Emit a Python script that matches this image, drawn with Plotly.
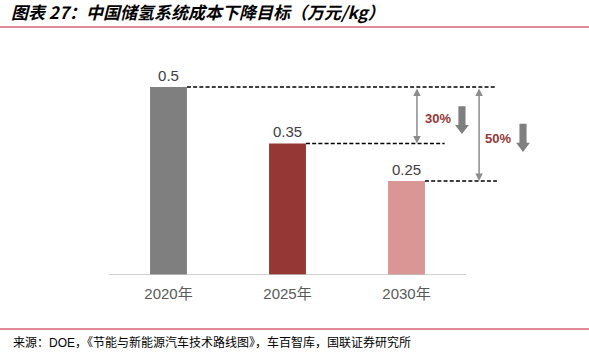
import plotly.graph_objects as go

categories = ["2020年", "2025年", "2030年"]
values = [0.5, 0.35, 0.25]
value_labels = ["0.5", "0.35", "0.25"]
bar_colors = ["#7F7F7F", "#953735", "#D99694"]
pct_labels = ["30%", "50%"]

title = "图表 27：中国储氢系统成本下降目标（万元/kg）"
source = "来源：DOE，《节能与新能源汽车技术路线图》，车百智库，国联证券研究所"

W, H = 589, 358
FONT = "Liberation Sans, Arial, Noto Sans CJK SC"
CJK = "Noto Sans CJK SC"

x_idx = list(range(len(categories)))
bar_w = 0.31
half = bar_w / 2

fig = go.Figure()
fig.add_trace(go.Bar(
    x=x_idx, y=values, width=bar_w, marker=dict(color=bar_colors, line=dict(width=0)),
    text=value_labels, textposition="outside",
    textfont=dict(family=FONT, size=15, color="#404040"),
    cliponaxis=False, hoverinfo="skip"))

shapes = []
# baseline axis line
shapes.append(dict(type="line", xref="x", yref="y", x0=-0.5, x1=2.5, y0=0, y1=0,
                   line=dict(color="#BFBFBF", width=1.3)))
# dashed guides
ends = [2.76, 2.32, 2.76]
for i, v in enumerate(values):
    shapes.append(dict(type="line", xref="x", yref="y", x0=i + half, x1=ends[i], y0=v, y1=v,
                       line=dict(color="#000000", width=1.5, dash="4px,2.2px")))

# block down arrows
def down_arrow(xc, ytop, yneck, ytip, sw=0.03, hw=0.058):
    return (f"M {xc-sw} {ytop} L {xc+sw} {ytop} L {xc+sw} {yneck} L {xc+hw} {yneck} "
            f"L {xc} {ytip} L {xc-hw} {yneck} L {xc-sw} {yneck} Z")

shapes.append(dict(type="path", xref="x", yref="y", path=down_arrow(2.466, 0.449, 0.399, 0.375),
                   fillcolor="#7F7F7F", line=dict(width=0)))
shapes.append(dict(type="path", xref="x", yref="y", path=down_arrow(2.979, 0.402, 0.352, 0.327),
                   fillcolor="#7F7F7F", line=dict(width=0)))

annotations = []
# double-headed arrows
arrow_x = [2.088, 2.61]
arrow_to = [values[1], values[2]]
for ax_, yb in zip(arrow_x, arrow_to):
    annotations.append(dict(x=ax_, y=yb, ax=ax_, ay=values[0], xref="x", yref="y",
                            axref="x", ayref="y", text="", showarrow=True,
                            arrowhead=2, startarrowhead=2, arrowside="end+start",
                            arrowsize=1, startarrowsize=1, arrowwidth=1.5, arrowcolor="#8C8C8C",
                            standoff=0, startstandoff=0))
annotations.append(dict(x=2.14, y=0.415, xref="x", yref="y",
                        text="<b>" + pct_labels[0] + "</b>", showarrow=False, xanchor="left",
                        font=dict(family=FONT, size=13, color="#953735")))
annotations.append(dict(x=2.643, y=0.364, xref="x", yref="y",
                        text="<b>" + pct_labels[1] + "</b>", showarrow=False, xanchor="left",
                        font=dict(family=FONT, size=13, color="#953735")))
# title and source
annotations.append(dict(x=9 / W, y=1 - 12 / H, xref="paper", yref="paper", text=title,
                        showarrow=False, xanchor="left", yanchor="middle",
                        font=dict(family=CJK, size=17, color="#000000", weight="bold", style="italic")))
annotations.append(dict(x=11 / W, y=1 - 342 / H, xref="paper", yref="paper", text=source,
                        showarrow=False, xanchor="left", yanchor="middle",
                        font=dict(family="Liberation Sans, " + CJK, size=12, color="#000000")))
# decorative red rules
shapes.append(dict(type="line", xref="paper", yref="paper", x0=0, x1=1, y0=1 - 27 / H, y1=1 - 27 / H,
                   line=dict(color="#E08A98", width=2)))
shapes.append(dict(type="line", xref="paper", yref="paper", x0=0, x1=1, y0=1 - 329 / H, y1=1 - 329 / H,
                   line=dict(color="#E08A98", width=2)))

base_px, top_px = 275, 87
ppu = (base_px - top_px) / 0.5
yr = [0, 0.6]
y0f = (H - base_px) / H
y1f = (H - (base_px - 0.6 * ppu)) / H

x_left = 109
step = 119
x_max = (W - x_left) / step - 0.5

fig.update_layout(
    width=W, height=H, margin=dict(l=0, r=0, t=0, b=0),
    paper_bgcolor="white", plot_bgcolor="white", showlegend=False,
    xaxis=dict(domain=[x_left / W, 1], range=[-0.5, x_max], tickvals=x_idx, ticktext=categories,
               showgrid=False, zeroline=False, showline=False, ticks="",
               tickfont=dict(family=FONT, size=15, color="#595959"), ticklabelstandoff=8),
    yaxis=dict(domain=[y0f, y1f], range=yr, visible=False),
    shapes=shapes, annotations=annotations,
)
fig.write_html("out.html", config={"displayModeBar": False},
               post_script="document.body.style.margin='0px';document.body.style.overflow='hidden';")
